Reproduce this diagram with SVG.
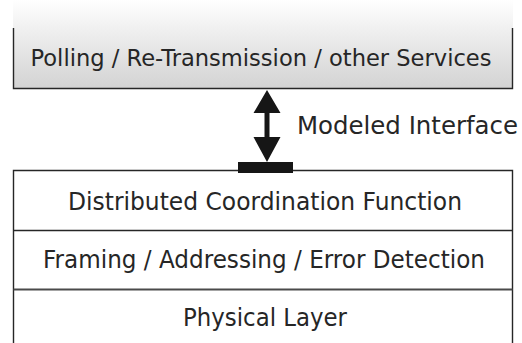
<svg xmlns="http://www.w3.org/2000/svg" width="522" height="343" viewBox="0 0 522 343">
  <style>
    .lbl { font-family: "DejaVu Sans", "Liberation Sans", sans-serif; font-size: 24.5px; fill: #262626; }
    .wide { font-size: 23px; }
    .edge { stroke: #262626; stroke-width: 1.4; fill: none; }
    .solid { fill: #161616; }
  </style>
  <defs>
    <linearGradient id="topFill" x1="0" y1="0" x2="0" y2="1">
      <stop offset="0" stop-color="#ffffff"/>
      <stop offset="0.3" stop-color="#f1f1f1"/>
      <stop offset="1" stop-color="#d3d3d3"/>
    </linearGradient>
  </defs>

  <!-- upper service block, shaded and open at the top -->
  <g id="services">
    <rect x="13" y="0" width="500" height="88.5" fill="url(#topFill)"/>
    <path class="edge" d="M13.5,28 V88.5 H512.5 V28"/>
    <text class="lbl wide" x="261" y="66" text-anchor="middle" textLength="461" lengthAdjust="spacingAndGlyphs">Polling / Re-Transmission / other Services</text>
  </g>

  <!-- layered stack, open at the bottom -->
  <g id="dcf">
    <path class="edge" d="M13.5,343 V170.5 H512.5 V343"/>
    <text class="lbl" x="265" y="210" text-anchor="middle" textLength="394" lengthAdjust="spacingAndGlyphs">Distributed Coordination Function</text>
  </g>
  <g id="framing">
    <line class="edge" x1="13.5" y1="230.5" x2="512.5" y2="230.5"/>
    <text class="lbl" x="264" y="268" text-anchor="middle" textLength="442" lengthAdjust="spacingAndGlyphs">Framing / Addressing / Error Detection</text>
  </g>
  <g id="physical">
    <line x1="13.5" y1="289.5" x2="512.5" y2="289.5" stroke="#4a4a4a" stroke-width="2"/>
    <text class="lbl" x="265" y="326" text-anchor="middle" textLength="164" lengthAdjust="spacingAndGlyphs">Physical Layer</text>
  </g>

  <!-- interface between the service block and the stack -->
  <g id="connectors">
    <polygon class="solid" points="267,90 280.5,113 269.5,113 269.5,137 280.5,137 267,162 253.5,137 264.5,137 264.5,113 253.5,113"/>
    <rect class="solid" x="238" y="162" width="55" height="11"/>
    <text class="lbl" x="297" y="134" textLength="221" lengthAdjust="spacingAndGlyphs">Modeled Interface</text>
  </g>
</svg>
